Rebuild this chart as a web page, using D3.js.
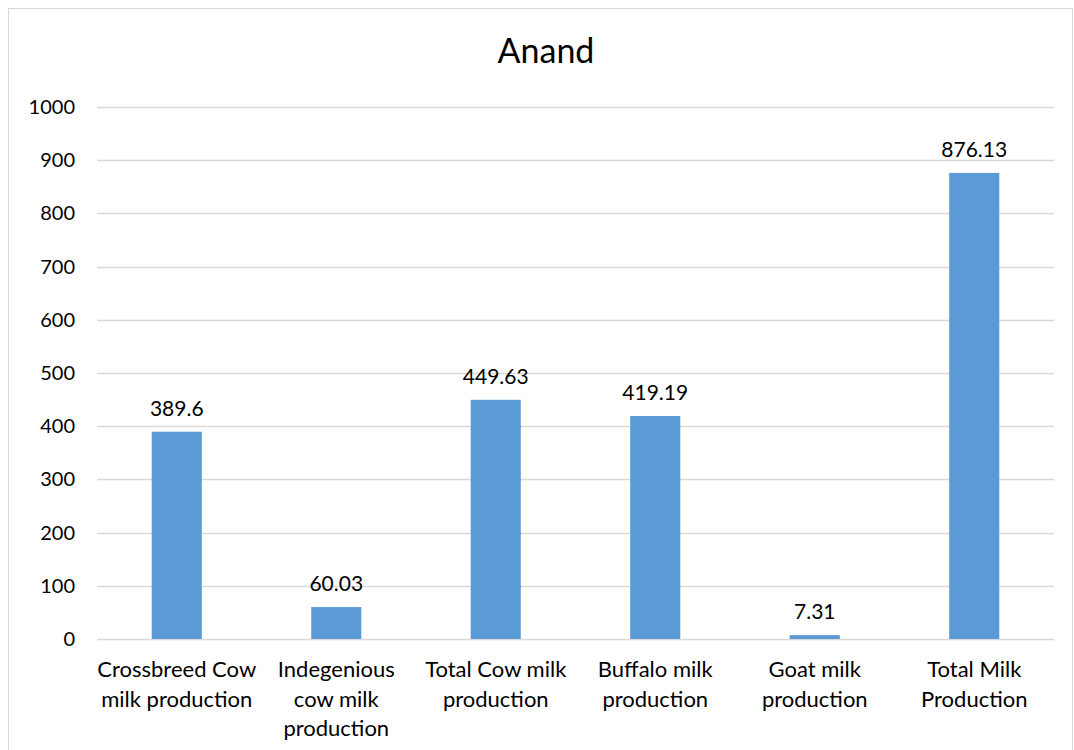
<!DOCTYPE html>
<html>
<head>
<meta charset="utf-8">
<script src="https://cdn.jsdelivr.net/npm/d3@7"></script>
<style>
  html, body { margin: 0; padding: 0; background: #fff; }
  svg { display: block; font-family: Lato, "Open Sans", sans-serif; }
</style>
</head>
<body>
<svg id="chart" width="1074" height="750"></svg>
<script>
// Milk production figures for Anand district
const chartTitle = "Anand";
const categories = [
  "Crossbreed Cow\nmilk production",
  "Indegenious\ncow milk\nproduction",
  "Total Cow milk\nproduction",
  "Buffalo milk\nproduction",
  "Goat milk\nproduction",
  "Total Milk\nProduction"
];
const values = [389.6, 60.03, 449.63, 419.19, 7.31, 876.13];
const valueLabels = ["389.6", "60.03", "449.63", "419.19", "7.31", "876.13"];
const yTicks = [0, 100, 200, 300, 400, 500, 600, 700, 800, 900, 1000];

const svg = d3.select("#chart");

// outer chart frame
svg.append("rect")
  .attr("x", 8.5).attr("y", 8.5)
  .attr("width", 1064).attr("height", 760)
  .attr("fill", "#fff").attr("stroke", "#d9d9d9").attr("stroke-width", 1);

const plot = { left: 97, right: 1054, top: 107, bottom: 639 };

const x = d3.scaleBand()
  .domain(categories)
  .range([plot.left, plot.right])
  .paddingInner(0.686)
  .paddingOuter(0.343);

const y = d3.scaleLinear()
  .domain([0, 1000])
  .range([plot.bottom, plot.top]);

// title
svg.append("text")
  .attr("x", 546).attr("y", 63)
  .attr("text-anchor", "middle")
  .attr("font-size", 34)
  .attr("fill", "#000")
  .text(chartTitle);

// gridlines
svg.append("g")
  .selectAll("line")
  .data(yTicks)
  .join("line")
  .attr("x1", plot.left).attr("x2", plot.right)
  .attr("y1", d => Math.round(y(d)) + 0.5)
  .attr("y2", d => Math.round(y(d)) + 0.5)
  .attr("stroke", "#d9d9d9").attr("stroke-width", 1.5);

// y-axis labels
const yAxis = d3.axisLeft(y).tickValues(yTicks).tickSize(0).tickPadding(0)
  .tickFormat(d3.format("d"));
const gy = svg.append("g")
  .attr("transform", `translate(75,0)`)
  .call(yAxis);
gy.select(".domain").remove();
gy.selectAll("text")
  .attr("font-family", "Lato, 'Open Sans', sans-serif")
  .attr("font-size", 20)
  .attr("fill", "#000");

// bars
svg.append("g")
  .selectAll("rect")
  .data(values)
  .join("rect")
  .attr("x", (d, i) => x(categories[i]))
  .attr("width", x.bandwidth())
  .attr("y", d => y(d))
  .attr("height", d => y(0) - y(d))
  .attr("fill", "#5b9bd5");

// value labels
svg.append("g")
  .selectAll("text")
  .data(values)
  .join("text")
  .attr("x", (d, i) => x(categories[i]) + x.bandwidth() / 2)
  .attr("y", d => y(d) - 16)
  .attr("text-anchor", "middle")
  .attr("font-size", 21)
  .attr("fill", "#000")
  .text((d, i) => valueLabels[i]);

// category labels (multi-line)
const xAxis = d3.axisBottom(x).tickSize(0).tickFormat("");
const gx = svg.append("g")
  .attr("transform", `translate(0,${plot.bottom})`)
  .call(xAxis);
gx.select(".domain").remove();
gx.selectAll(".tick").each(function(d) {
  const t = d3.select(this).append("text")
    .attr("text-anchor", "middle")
    .attr("font-size", 22)
    .attr("fill", "#000")
    .attr("font-family", "Lato, 'Open Sans', sans-serif");
  d.split("\n").forEach((line, i) => {
    t.append("tspan").attr("x", 0).attr("y", 38 + i * 29.5).text(line);
  });
});
</script>
</body>
</html>
